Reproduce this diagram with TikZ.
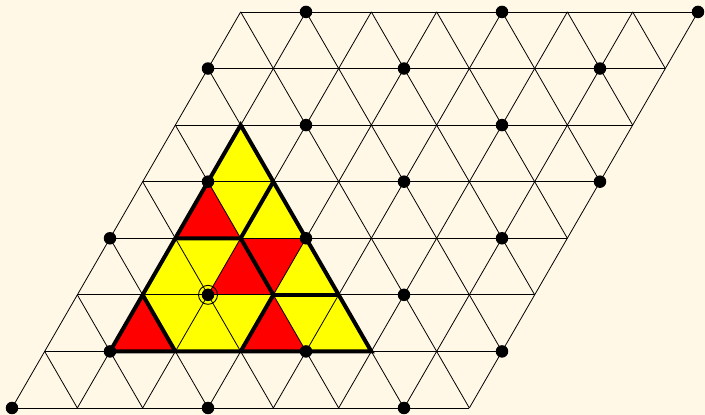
\documentclass[tikz,border=0pt]{standalone}
\definecolor{bg}{RGB}{255,248,231}
\definecolor{tri yellow}{RGB}{255,255,0}
\definecolor{tri red}{RGB}{255,0,0}
\begin{document}
\begin{tikzpicture}[x={(65.333pt,0pt)},y={(32.667pt,56.58pt)},
  gridline/.style={line width=0.8pt,black},
  boldline/.style={line width=4pt,black},
  dot/.style={circle,fill=black,inner sep=0pt,minimum size=12.5pt},
  ring/.style={circle,draw=black,line width=0.9pt,inner sep=0pt,minimum size=19pt}]
\useasboundingbox[fill=bg] (-12pt,-7pt) rectangle ++(705pt,415pt);
% coloured big triangle
\fill[tri yellow] (1,1)--(5,1)--(1,5)--cycle;
\fill[tri red] (1,1)--(2,1)--(1,2)--cycle;
\fill[tri red] (3,1)--(4,1)--(3,2)--cycle;
\fill[tri red] (2,2)--(3,2)--(2,3)--cycle;
\fill[tri red] (2,3)--(3,3)--(3,2)--cycle;
\fill[tri red] (1,3)--(2,3)--(1,4)--cycle;
% lattice
\foreach \j in {0,...,7} \draw[gridline] (0,\j)--(7,\j);
\foreach \i in {0,...,7} \draw[gridline] (\i,0)--(\i,7);
\foreach \s in {1,...,7} \draw[gridline] (\s,0)--(0,\s);
\foreach \s in {8,...,13} {\pgfmathtruncatemacro{\t}{\s-7}\draw[gridline] (7,\t)--(\t,7);}
% bold outlines
\draw[boldline] (1,1)--(5,1)--(1,5)--cycle;
\draw[boldline] (1,2)--(2,1);
\draw[boldline] (3,1)--(3,2)--(2,3);
\draw[boldline] (3,2)--(4,2);
\draw[boldline] (1,3)--(2,3)--(2,4);
% dots
\foreach \j/\lst in {0/{0,3,6},1/{1,4,7},2/{2,5},3/{0,3,6},4/{1,4,7},5/{2,5},6/{0,3,6},7/{1,4,7}}
  \foreach \i in \lst \node[dot] (d-\i-\j) at (\i,\j) {};
\node[ring] (c) at (2,2) {};
\end{tikzpicture}
\end{document}
